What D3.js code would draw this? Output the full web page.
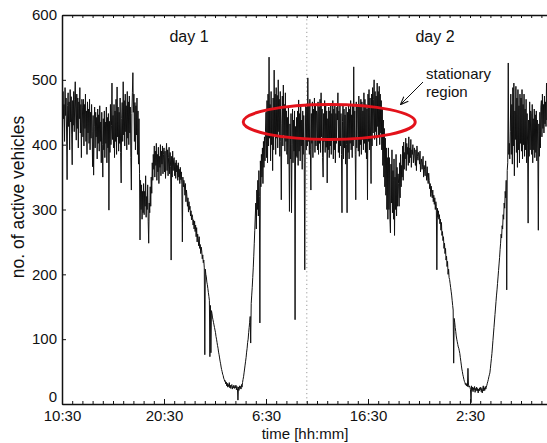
<!DOCTYPE html>
<html>
<head>
<meta charset="utf-8">
<script src="https://cdn.jsdelivr.net/npm/d3@7/dist/d3.min.js"></script>
<style>
  html, body { margin: 0; padding: 0; background: #fff; }
  svg { display: block; }
  text { font-family: "Liberation Sans", Arial, Helvetica, sans-serif; fill: #111; }
</style>
</head>
<body>
<svg id="chart" width="547" height="443"></svg>
<script>
// Active vehicles sampled every 3 minutes from 10:30 on day 1 (one row = one hour)
const sampleMinutes = 3;
const day1Counts = [
  470, 425, 482, 440, 462, 405, 488, 445, 472, 418, 346, 460, 480, 428, 466, 392, 485, 435, 474, 415,
  369, 468, 430, 482, 420, 470, 497, 438, 407, 478, 425, 472, 395, 466, 440, 488, 418, 462, 380, 470,
  458, 412, 470, 398, 462, 425, 478, 405, 452, 385, 466, 418, 455, 402, 470, 392, 450, 410, 462, 420,
  366, 445, 353, 428, 458, 395, 450, 412, 442, 378, 455, 402, 446, 390, 460, 405, 435, 372, 450, 400,
  350, 440, 392, 452, 380, 435, 402, 458, 372, 442, 395, 448, 299, 436, 388, 462, 400, 430, 495, 408,
  445, 395, 462, 380, 452, 405, 470, 385, 489, 412, 458, 390, 450, 402, 472, 388, 341, 440, 465, 405,
  497, 415, 468, 398, 478, 420, 460, 392, 482, 410, 466, 400, 475, 418, 458, 380, 330, 448, 480, 511,
  450, 478, 405, 465, 392, 460, 415, 472, 385, 452, 370, 440, 355, 253, 345, 300, 338, 285, 328, 295,
  340, 292, 328, 305, 352, 288, 320, 300, 338, 282, 248, 310, 295, 335, 305, 350, 325, 372, 345, 385,
  362, 398, 350, 390, 368, 402, 345, 385, 358, 396, 340, 382, 365, 400, 352, 390, 370, 398, 355, 385,
  395, 358, 390, 348, 384, 402, 360, 392, 352, 380, 396, 355, 388, 366, 222, 382, 350, 390, 360, 378,
  380, 352, 372, 348, 376, 358, 368, 345, 372, 350, 362, 340, 365, 346, 358, 338, 250, 350, 335, 345,
  338, 322, 340, 312, 330, 320, 305, 318, 296, 312, 300, 305, 290, 298, 284, 292, 288, 276, 284, 270,
  282, 266, 276, 258, 272, 250, 262, 255, 244, 258, 240, 246, 232, 242, 236, 224, 230, 218, 222, 210,
   76, 208, 200, 196, 188, 184, 178, 172, 166, 160,  73, 152,  79, 144, 140, 134, 130, 126, 122, 118,
  114, 110, 104, 100,  95,  90,  86,  80,  76,  71,  66,  62,  57,  53,  50,  46,  44,  40,  38,  35,
   36,  31,  34,  28,  32,  26,  30,  27,  33,  25,  29,  24,  28,  30,  23,  27,  25,  29,  24,  27,
   25,  29,  22,  27,  24,   6,  26,  21,  28,  24,  27,  23,  30,  26,  33,  38,  42,  48,  54,  60,
   66,  72,  80,  86,  95, 100, 110, 118, 126, 135,  94, 155, 168, 180, 195, 210, 228, 248, 268, 290,
  310, 270, 330, 300, 345, 290, 360, 320, 125, 375, 335, 385, 350, 395, 340, 405, 365, 412, 375, 420,
  450, 380, 468, 372, 478, 398, 535, 410, 462, 375, 482, 400, 455, 360, 472, 392, 515, 415, 478, 385,
  488, 410, 476, 395, 500, 420, 470, 382, 482, 405, 315, 432, 475, 398, 492, 415, 462, 390, 480, 405,
  452, 385, 442, 370, 458, 395, 297, 432, 378, 448, 295, 400, 455, 372, 438, 390, 452, 130, 428, 382,
  442, 380, 452, 368, 469, 390, 448, 375, 460, 398, 438, 362, 452, 385, 445, 372, 207, 410, 462, 392
];
const day2Counts = [
  458, 398, 503, 405, 462, 385, 470, 392, 330, 448, 402, 466, 380, 455, 408, 472, 388, 460, 398, 452,
  448, 392, 466, 385, 458, 402, 470, 388, 480, 412, 455, 380, 350, 448, 405, 468, 388, 460, 396, 452,
  341, 440, 392, 458, 380, 452, 398, 462, 385, 448, 408, 468, 378, 455, 392, 460, 372, 448, 402, 458,
  438, 480, 388, 452, 380, 460, 398, 448, 385, 295, 436, 462, 378, 455, 395, 446, 370, 458, 400, 295,
  450, 388, 462, 378, 455, 402, 468, 392, 446, 380, 460, 398, 520, 408, 452, 385, 315, 466, 395, 458,
  462, 390, 475, 382, 458, 400, 470, 385, 466, 408, 452, 392, 480, 402, 470, 388, 462, 378, 455, 315,
  478, 405, 485, 392, 472, 412, 340, 478, 398, 488, 418, 470, 500, 408, 482, 420, 475, 398, 495, 428,
  482, 412, 490, 400, 478, 418, 468, 392, 455, 368, 438, 350, 425, 335, 410, 322, 395, 300, 380, 285,
  395, 300, 380, 285, 264, 370, 310, 392, 295, 360, 285, 378, 260, 350, 300, 385, 290, 365, 305, 355,
  340, 305, 372, 318, 385, 335, 368, 350, 398, 345, 404, 362, 388, 378, 410, 360, 402, 385, 396, 368,
  412, 372, 395, 380, 408, 365, 392, 385, 400, 372, 386, 395, 378, 368, 392, 360, 398, 382, 376, 388,
  385, 370, 390, 358, 372, 378, 362, 370, 382, 350, 368, 362, 352, 375, 358, 345, 366, 350, 340, 356,
  345, 332, 340, 320, 336, 325, 318, 330, 312, 322, 308, 318, 300, 312, 305, 207, 302, 288, 298, 285,
  292, 278, 285, 268, 280, 260, 266, 252, 258, 240, 248, 232, 240, 222, 228, 212, 220, 200, 208, 195,
  192, 186, 180, 174, 168, 160, 152, 145,  63, 132, 126, 118, 112, 105, 100,  96,  92,  88,  86,  82,
   78,  72,  66,  60,  54,  50,  45,  42,  38,  35,  33,  30,  32,  28,  31,  27,  55,  29,  26,  28,
   26,  22,   2,  28,  21,  26,  19,  25,  22,  27,  18,  24,  21,  26,  20,  24,  17,  23,  20,  25,
   22,  26,  19,  24,  17,  23,  28,  20,  25,  21,  27,  23,  26,  29,  32,  35,  38,  42,  45,  48,
   55,  63,  70,  78,  88,  98, 108, 118, 128, 138, 148, 158, 168, 176, 186, 196, 206, 216, 226, 238,
  248, 262, 256, 275, 270, 292, 285, 310, 302, 328, 318, 345, 176, 360, 372, 526, 385, 402, 378, 420,
  478, 385, 462, 370, 488, 398, 495, 352, 452, 408, 490, 388, 472, 365, 485, 392, 460, 372, 478, 402,
  472, 390, 485, 378, 462, 400, 478, 382, 455, 392, 470, 372, 448, 398, 279, 438, 382, 466, 392, 452,
  448, 385, 462, 372, 440, 392, 455, 380, 446, 388, 452, 375, 438, 390, 268, 432, 382, 450, 395, 458,
  468, 412, 478, 425, 462, 418, 475, 432, 466, 428, 495, 438, 472, 430, 478, 436, 470, 440, 476, 445
];

// Axis ticks (hours after the 10:30 start)
const xTickHours = [0, 10, 20, 30, 40];
const xTickLabels = ["10:30", "20:30", "6:30", "16:30", "2:30"];
const yTicks = [0, 100, 200, 300, 400, 500, 600];
const dayLabels = ["day 1", "day 2"];
const dayBoundaryHour = 24;

const counts = day1Counts.concat(day2Counts);
const series = counts.map((v, i) => ({ h: i * sampleMinutes / 60, v }));

const svg = d3.select("#chart");
const plotLeft = 62, plotTop = 15, plotBottom = 404, pxPerHour = 10.2;

const x = d3.scaleLinear().domain([0, 48]).range([plotLeft, plotLeft + 48 * pxPerHour]);
const y = d3.scaleLinear().domain([0, 600]).range([plotBottom, plotTop]);

svg.append("clipPath").attr("id", "plot-clip")
  .append("rect").attr("x", plotLeft).attr("y", plotTop)
  .attr("width", x(48) - plotLeft).attr("height", plotBottom - plotTop);

// Day boundary
svg.append("line")
  .attr("x1", x(dayBoundaryHour)).attr("x2", x(dayBoundaryHour))
  .attr("y1", plotTop).attr("y2", plotBottom)
  .attr("stroke", "#9a9a9a").attr("stroke-width", 1)
  .attr("stroke-dasharray", "1.2,3");

// Vehicle count trace
svg.append("path")
  .datum(series)
  .attr("clip-path", "url(#plot-clip)")
  .attr("fill", "none")
  .attr("stroke", "#111")
  .attr("stroke-width", 1)
  .attr("stroke-linejoin", "round")
  .attr("d", d3.line().x(d => x(d.h)).y(d => y(d.v)));

const hourly = d3.range(0, 49);

// Bottom axis: hourly minor ticks, labelled major ticks
svg.append("g").attr("transform", `translate(0,${plotBottom})`)
  .call(d3.axisBottom(x).tickValues(hourly).tickSizeInner(-3).tickSizeOuter(0).tickFormat(""))
  .call(g => g.select(".domain").attr("stroke", "#111").attr("stroke-width", 1.5));
svg.append("g").attr("transform", `translate(0,${plotBottom})`)
  .call(d3.axisBottom(x).tickValues(xTickHours).tickSizeInner(-5).tickSizeOuter(0).tickPadding(6)
    .tickFormat((d, i) => xTickLabels[i]))
  .call(g => g.select(".domain").remove());

// Top axis
svg.append("g").attr("transform", `translate(0,${plotTop})`)
  .call(d3.axisTop(x).tickValues(hourly).tickSizeInner(-3).tickSizeOuter(0).tickFormat(""))
  .call(g => g.select(".domain").attr("stroke", "#111").attr("stroke-width", 1.5));

// Left axis
svg.append("g").attr("class", "y-axis").attr("transform", `translate(${plotLeft},0)`)
  .call(d3.axisLeft(y).tickValues(yTicks).tickSizeInner(-4).tickSizeOuter(0).tickPadding(5))
  .call(g => g.select(".domain").attr("stroke", "#111").attr("stroke-width", 1.5));

svg.selectAll(".tick line").attr("stroke", "#111");
svg.selectAll("g").attr("font-family", null).attr("font-size", null);
svg.selectAll(".tick text").attr("font-size", 15);
// lift the zero label clear of the first time label
svg.selectAll(".y-axis .tick text").filter(d => d === 0).attr("dy", "-0.15em");

// Axis titles
svg.append("text")
  .attr("x", 305).attr("y", 439)
  .attr("text-anchor", "middle").attr("font-size", 15)
  .text("time [hh:mm]");
svg.append("text")
  .attr("transform", "translate(24,197) rotate(-90)")
  .attr("text-anchor", "middle").attr("font-size", 17.5)
  .text("no. of active vehicles");

// Day labels
svg.append("text").attr("x", 189).attr("y", 42)
  .attr("text-anchor", "middle").attr("font-size", 16).text(dayLabels[0]);
svg.append("text").attr("x", 435).attr("y", 42)
  .attr("text-anchor", "middle").attr("font-size", 16).text(dayLabels[1]);

// Stationary region highlight
svg.append("ellipse")
  .attr("cx", x(26.2)).attr("cy", y(435))
  .attr("rx", 86).attr("ry", 17.5)
  .attr("fill", "none").attr("stroke", "#e3121b").attr("stroke-width", 3);

svg.append("defs").append("marker")
  .attr("id", "arrow").attr("viewBox", "0 0 10 10")
  .attr("refX", 9).attr("refY", 5)
  .attr("markerWidth", 8).attr("markerHeight", 8)
  .attr("orient", "auto-start-reverse")
  .append("path").attr("d", "M0,1 L10,5 L0,9").attr("fill", "none")
  .attr("stroke", "#111").attr("stroke-width", 1.4);

svg.append("line")
  .attr("x1", 423).attr("y1", 82).attr("x2", 401).attr("y2", 104)
  .attr("stroke", "#111").attr("stroke-width", 1)
  .attr("marker-end", "url(#arrow)");

const note = svg.append("text").attr("font-size", 15);
note.append("tspan").attr("x", 426).attr("y", 79).text("stationary");
note.append("tspan").attr("x", 426).attr("y", 97).text("region");
</script>
</body>
</html>
